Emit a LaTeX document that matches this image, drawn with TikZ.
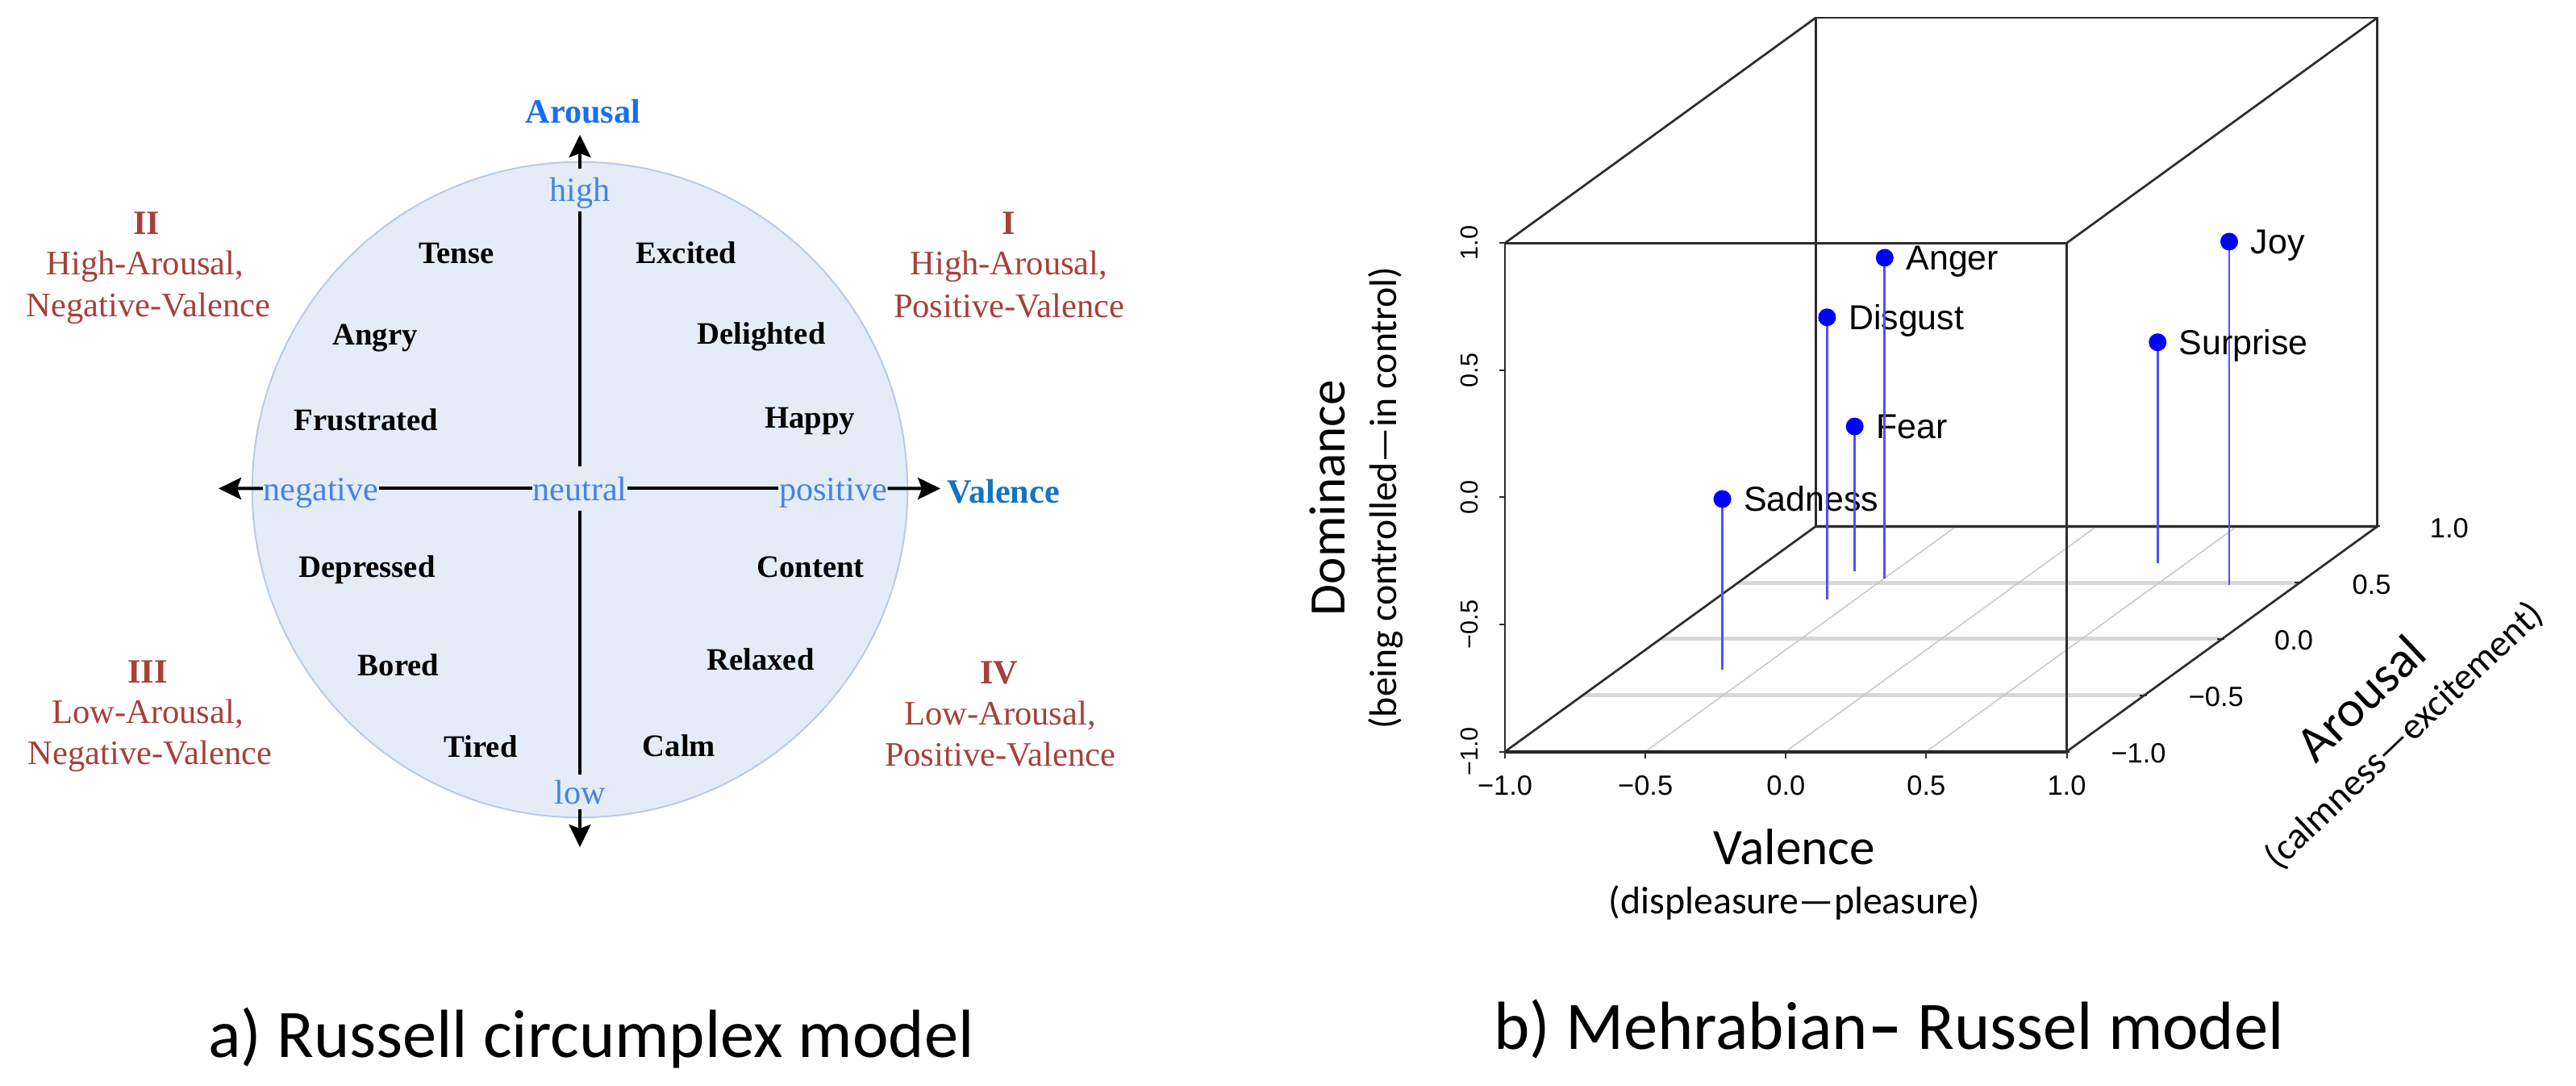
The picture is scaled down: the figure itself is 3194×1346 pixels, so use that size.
\documentclass[tikz,border=0pt]{standalone}
\usepackage{fontspec}
\setmainfont{Liberation Serif}
\newfontfamily\arialf{Liberation Sans}
\newfontfamily\calib{Carlito}
\usetikzlibrary{arrows.meta,calc}
\definecolor{qred}{RGB}{165,64,58}
\definecolor{axblue}{RGB}{70,130,225}
\definecolor{arblue}{RGB}{25,110,240}
\definecolor{vablue}{RGB}{20,115,195}
\definecolor{circfill}{RGB}{228,236,247}
\definecolor{circdraw}{RGB}{184,204,230}
\definecolor{boxgray}{RGB}{45,45,45}
\definecolor{gridgray}{RGB}{215,215,215}
\definecolor{diaggray}{RGB}{200,200,200}
\definecolor{stemblue}{RGB}{80,80,255}
\begin{document}
\begin{tikzpicture}[x=0.01cm, y=-0.01cm,
  emo/.style={font=\fontsize{11}{13}\selectfont\bfseries, anchor=base, inner sep=0pt},
  axw/.style={font=\fontsize{12}{14}\selectfont, text=axblue, anchor=base, inner xsep=0pt, inner ysep=0pt, text height=0.29cm, text depth=0pt},
  quadtxt/.style={font=\fontsize{12.1}{14}\selectfont, text=qred, anchor=base, inner sep=0pt},
  quadnum/.style={font=\fontsize{12}{14}\selectfont\bfseries, text=qred, anchor=base, inner sep=0pt},
  axline/.style={line width=0.04cm},
  axarrow/.style={line width=0.04cm, -{Stealth[length=0.28cm,width=0.27cm,inset=0.05cm]}},
  boxline/.style={draw=boxgray, line width=0.027cm},
  frontaxis/.style={draw=black!85, line width=0.04cm},
  floorgrid/.style={draw=gridgray, line width=0.05cm},
  diaggrid/.style={draw=diaggray, line width=0.015cm},
  stemline/.style={draw=stemblue, line width=0.027cm},
  pdot/.style={circle, fill=blue, inner sep=0pt, minimum size=0.22cm},
  ptlab/.style={font=\arialf\fontsize{12.2}{14}\selectfont, anchor=base west, inner sep=0pt, xshift=0.26cm, yshift=-0.154cm},
  ticklab/.style={font=\arialf\fontsize{9.8}{12}\selectfont, inner sep=0pt},
  dticklab/.style={font=\arialf\fontsize{8.7}{10}\selectfont, inner sep=0pt, rotate=90},
  tickline/.style={draw=boxgray, line width=0.02cm},
  ttl/.style={font=\calib\fontsize{18}{21}\selectfont, inner sep=0pt},
  subttl/.style={font=\calib\fontsize{13.6}{16}\selectfont, inner sep=0pt},
  captxt/.style={font=\calib\fontsize{24}{28}\selectfont, anchor=base, inner sep=0pt}
]
\fill[white] (0,0) rectangle (3194,1346);
\useasboundingbox (0,0) rectangle (3194,1346);

% ---------------- Panel a: Russell circumplex ----------------
\node[circle, fill=circfill, draw=circdraw, line width=0.02cm, minimum size=8.12cm, inner sep=0pt] (circ) at (719,607) {};

\coordinate (ttip) at (719,167);
\coordinate (btip) at (719,1050);
\coordinate (ltip) at (271,605.5);
\coordinate (rtip) at (1166,605.5);

\node[axw, inner ysep=0.11cm] (high) at (719,250) {high};
\node[axw, inner ysep=0.12cm] (neutral) at (719,620) {neutral};
\node[axw, inner ysep=0.06cm] (low) at (719,996) {low};
\node[axw] (negative) at (398,620) {negative};
\node[axw] (positive) at (1033,620) {positive};

\draw[axarrow] (high.north) -- (ttip);
\draw[axline] (high.south) -- (neutral.north);
\draw[axline] (neutral.south) -- (low.north);
\draw[axarrow] (low.south) -- (btip);
\draw[axarrow] (negative.west) -- (ltip);
\draw[axline] (negative.east) -- (neutral.west);
\draw[axline] (neutral.east) -- (positive.west);
\draw[axarrow] (positive.east) -- (rtip);

\node[font=\fontsize{12}{14}\selectfont\bfseries, text=arblue, anchor=base, inner sep=0pt] (arousalA) at (723,153) {Arousal};
\node[font=\fontsize{12}{14}\selectfont\bfseries, text=vablue, anchor=base west, inner sep=0pt] (valenceA) at (1174,623) {Valence};

\node[emo] (tense) at (566,327) {Tense};
\node[emo] (excited) at (851,327) {Excited};
\node[emo] (angry) at (465,428) {Angry};
\node[emo] (delighted) at (944,426) {Delighted};
\node[emo] (frustrated) at (454,534) {Frustrated};
\node[emo] (happy) at (1004,530) {Happy};
\node[emo] (depressed) at (455,715) {Depressed};
\node[emo] (content) at (1005,715) {Content};
\node[emo] (bored) at (494,837) {Bored};
\node[emo] (relaxed) at (943,830) {Relaxed};
\node[emo] (tired) at (596,938) {Tired};
\node[emo] (calm) at (842,937) {Calm};

\node[quadnum] (q1n) at (1251,291) {I};
\node[quadtxt] (q1a) at (1251,341) {High-Arousal,};
\node[quadtxt] (q1b) at (1251,394) {Positive-Valence};
\node[quadnum] (q2n) at (182,291) {II};
\node[quadtxt] (q2a) at (180,341) {High-Arousal,};
\node[quadtxt] (q2b) at (184,393) {Negative-Valence};
\node[quadnum] (q3n) at (183,846) {III};
\node[quadtxt] (q3a) at (183,896) {Low-Arousal,};
\node[quadtxt] (q3b) at (186,947) {Negative-Valence};
\node[quadnum] (q4n) at (1239,847) {IV};
\node[quadtxt] (q4a) at (1240,898) {Low-Arousal,};
\node[quadtxt] (q4b) at (1240,949) {Positive-Valence};

% ---------------- Panel b: Mehrabian-Russel 3D ----------------
\begin{scope}[shift={(24.055cm,-4.765cm)}, x={(3.48cm,0cm)}, y={(1.925cm,1.395cm)}, z={(0cm,3.15cm)}]
  % floor grid
  \foreach \ga in {-1,-0.5,0,0.5,1} \draw[floorgrid] (-1,\ga,-1) -- (1,\ga,-1);
  \foreach \gv in {-0.5,0,0.5} \draw[diaggrid] (\gv,-1,-1) -- (\gv,1,-1);
  % box
  \draw[boxline] (-1,1,-1) -- (1,1,-1) -- (1,1,1) -- (-1,1,1) -- cycle;
  \draw[boxline] (-1,-1,-1) -- (-1,-1,1) -- (1,-1,1) -- (1,-1,-1);
  \draw[boxline] (-1,-1,-1) -- (-1,1,-1);
  \draw[boxline] (1,-1,-1) -- (1,1,-1);
  \draw[boxline] (1,-1,1) -- (1,1,1);
  \draw[boxline] (-1,-1,1) -- (-1,1,1);
  \draw[frontaxis] (-1,-1,-1) -- (1,-1,-1);
  % valence ticks
  \foreach \gv/\gl [count=\i] in {-1/{−1.0},-0.5/{−0.5},0/{0.0},0.5/{0.5},1/{1.0}} {
    \draw[tickline] (\gv,-1,-1) -- ++(0,-0.08cm);
    \node[ticklab, anchor=base, yshift=-0.54cm] (vt\i) at (\gv,-1,-1) {\gl};
  }
  % dominance ticks
  \foreach \gd/\gl [count=\i] in {-1/{−1.0},-0.5/{−0.5},0/{0.0},0.5/{0.5},1/{1.0}} {
    \draw[tickline] (-1,-1,\gd) -- ++(-0.07cm,0);
    \node[dticklab] (dt\i) at ($(-1,-1,\gd)+(-0.44cm,0)$) {\gl};
  }
  % arousal ticks
  \foreach \ga/\gl [count=\i] in {-1/{−1.0},-0.5/{−0.5},0/{0.0},0.5/{0.5},1/{1.0}} {
    \draw[tickline] ($(1,\ga,-1)+(-0.06cm,0)$) -- ++(0.09cm,0);
    \node[ticklab] (at\i) at ($(1,\ga,-1)+(0.89cm,-0.02cm)$) {\gl};
  }
  % points
  \foreach \pn/\pv/\pa/\pd in {Sadness/-0.63/-0.27/-0.33, Disgust/-0.60/0.35/0.11, Fear/-0.64/0.60/-0.43, Anger/-0.50/0.54/0.26, Joy/0.76/0.48/0.35, Surprise/0.40/0.67/-0.13} {
    \coordinate (p\pn) at (\pv,\pa,\pd);
    \coordinate (f\pn) at (\pv,\pa,-1);
    \draw[stemline] (p\pn) -- (f\pn);
    \node[pdot] (d\pn) at (p\pn) {};
    \node[ptlab] (l\pn) at (p\pn) {\pn};
  }
\end{scope}

\node[ttl, anchor=base] (valT) at (2225,1071) {Valence};
\node[subttl, anchor=base] (valS) at (2225,1132) {(displeasure—pleasure)};
\node[ttl, anchor=base, rotate=90] (domT) at (1667,617) {Dominance};
\node[subttl, anchor=base, rotate=90] (domS) at (1731,617) {(being controlled—in control)};
\node[ttl, rotate=43.5] (aroT) at (2927,865) {Arousal};
\node[subttl, font=\calib\fontsize{13.3}{16}\selectfont, rotate=43.5] (aroS) at (2981,912) {(calmness—excitement)};

% captions
\node[captxt] (capA) at (733,1310) {a) Russell circumplex model};
\node[captxt] (capB) at (2342,1300) {b) Mehrabian{\bfseries –} Russel model};
\end{tikzpicture}
\end{document}
